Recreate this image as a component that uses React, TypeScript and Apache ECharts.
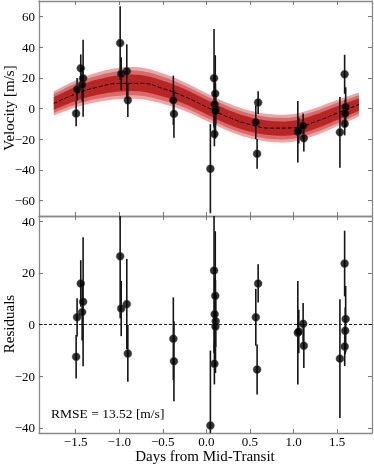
import React, { useEffect, useRef } from "react";
import * as echarts from "echarts";

// ---- Data ----
const xTicks = [-1.5, -1.0, -0.5, 0.0, 0.5, 1.0, 1.5];
const velTicks = [-60, -40, -20, 0, 20, 40, 60];
const resTicks = [-40, -20, 0, 20, 40];

const obsDays = [
  -1.494, -1.483, -1.441, -1.425, -1.414,
  -0.989, -0.977, -0.913, -0.901,
  -0.379, -0.372,
  0.046, 0.088, 0.102, 0.095, 0.107, 0.104, 0.092,
  0.567, 0.594, 0.582,
  1.049, 1.06, 1.11, 1.118,
  1.532, 1.586, 1.598, 1.593, 1.587,
];
const velocity = [
  -3.2, 12.5, 26.2, 15.5, 19.7,
  42.6, 22.6, 24.3, 5.4,
  5.4, -3.5,
  -39.2, 19.7, 9.7, 2.8, -0.45, -1.7, -16.6,
  -9.0, 3.9, -29.5,
  -15.1, -14.4, -11.2, -19.4,
  -15.5, 22.3, 1.0, -3.2, -9.9,
];
const residual = [
  -12.5, 2.8, 15.9, 4.8, 8.8,
  26.4, 6.2, 7.9, -11.2,
  -5.5, -14.2,
  -39.1, 20.9, 11.1, 4.0, 1.3, -0.8, -15.2,
  2.8, 15.9, -17.4,
  -3.2, -2.7, 0.3, -8.2,
  -13.2, 23.6, 2.1, -2.4, -8.5,
];
const errors = [
  8.4, 7.4, 9.0, 11, 25,
  24, 10.7, 17.5, 11,
  16, 15.5,
  29, 32, 25, 14, 10, 18, 8,
  11, 7.4, 9.7,
  20, 8.4, 8, 8.6,
  23, 12.7, 12.8, 9, 7.6,
];

const modelDays = [-1.75, -1.5, -1.25, -1.0, -0.75, -0.5, -0.25, 0, 0.25, 0.5, 0.75, 1.0, 1.25, 1.5, 1.75];
const modelVel = [3.3, 9.5, 13.9, 16.3, 16.4, 13.0, 7.8, 1.0, -5.6, -10.4, -12.8, -12.6, -8.6, -3.0, 2.6];
const bandOuter = [7.9, 8.8, 9.6, 10.2, 10.3, 9.9, 9.3, 9.0, 9.0, 9.0, 9.0, 9.0, 8.9, 8.6, 7.8];
const bandFractions = [1.0, 0.78, 0.52];
const bandColors = ["#eba7a7", "#d86a68", "#b92525"];

const FONT = "'Liberation Serif', 'Times New Roman', serif";
const minus = (s: string) => s.replace("-", "\u2212");

// Catmull-Rom smoothing of pixel points (drawing only)
function smoothPts(p: number[][], steps = 8): number[][] {
  const out: number[][] = [];
  const n = p.length;
  for (let i = 0; i < n - 1; i++) {
    const p0 = p[Math.max(0, i - 1)], p1 = p[i], p2 = p[i + 1], p3 = p[Math.min(n - 1, i + 2)];
    for (let s = 0; s < steps; s++) {
      const t = s / steps, t2 = t * t, t3 = t2 * t;
      const f = (a: number, b: number, c: number, d: number) =>
        0.5 * (2 * b + (-a + c) * t + (2 * a - 5 * b + 4 * c - d) * t2 + (-a + 3 * b - 3 * c + d) * t3);
      out.push([f(p0[0], p1[0], p2[0], p3[0]), f(p0[1], p1[1], p2[1], p3[1])]);
    }
  }
  out.push(p[n - 1]);
  return out;
}

export default function App() {
  const ref = useRef<HTMLDivElement>(null);
  useEffect(() => {
    const chart = echarts.init(ref.current!, null, { renderer: "svg" });

    const frame = { show: true, onZero: false, lineStyle: { color: "#8a8a8a", width: 1.3 } };
    const tick = (vals: number[]) => ({
      show: true, inside: true, length: 4, customValues: vals,
      lineStyle: { color: "#777", width: 1 },
    });
    const xBase = { type: "value", min: -1.92, max: 1.9, splitLine: { show: false }, axisLine: frame };

    const xAxis: any[] = [
      { ...xBase, gridIndex: 0, position: "bottom", axisTick: tick(xTicks), axisLabel: { show: false } },
      { ...xBase, gridIndex: 0, position: "top", axisTick: tick(xTicks), axisLabel: { show: false } },
      {
        ...xBase, gridIndex: 1, position: "bottom", axisTick: tick(xTicks),
        axisLabel: {
          show: true, customValues: xTicks, margin: 2, color: "#000", fontFamily: FONT, fontSize: 13,
          lineHeight: 13,
          formatter: (v: number) => minus(v.toFixed(1)),
        },
      },
      { ...xBase, gridIndex: 1, position: "top", axisTick: tick(xTicks), axisLabel: { show: false } },
    ];

    const yAxis: any[] = [
      {
        type: "value", gridIndex: 0, position: "left", min: -70, max: 70, splitLine: { show: false },
        axisLine: frame, axisTick: tick(velTicks),
        axisLabel: {
          customValues: velTicks, margin: 4, color: "#000", fontFamily: FONT, fontSize: 13,
          formatter: (v: number) => minus(String(v)),
        },
      },
      {
        type: "value", gridIndex: 0, position: "right", min: -70, max: 70, splitLine: { show: false },
        axisLine: frame, axisTick: tick(velTicks), axisLabel: { show: false },
      },
      {
        type: "value", gridIndex: 1, position: "left", min: -42, max: 42, splitLine: { show: false },
        axisLine: frame, axisTick: tick(resTicks),
        axisLabel: {
          customValues: resTicks, margin: 4, color: "#000", fontFamily: FONT, fontSize: 13,
          formatter: (v: number) => minus(String(v)),
        },
      },
      {
        type: "value", gridIndex: 1, position: "right", min: -42, max: 42, splitLine: { show: false },
        axisLine: frame, axisTick: tick(resTicks), axisLabel: { show: false },
      },
    ];

    const series: any[] = [];
    // Confidence bands (outer -> inner), one polygon per band
    series.push({
      type: "custom", xAxisIndex: 0, yAxisIndex: 0, clip: true, silent: true,
      data: bandFractions.map((f, k) => [k, f]),
      encode: { x: -1, y: -1 },
      renderItem: (params: any, api: any) => {
        const k = params.dataIndex;
        const f = bandFractions[k];
        const upper = modelDays.map((d, i) => api.coord([d, modelVel[i] + bandOuter[i] * f]));
        const lower = modelDays.map((d, i) => api.coord([d, modelVel[i] - bandOuter[i] * f]));
        const pts = smoothPts(upper).concat(smoothPts(lower).reverse());
        return { type: "polygon", shape: { points: pts }, style: { fill: bandColors[k] } };
      },
    });
    series.push({
      type: "line", xAxisIndex: 0, yAxisIndex: 0, smooth: true, symbol: "none", silent: true,
      lineStyle: { color: "#000", width: 1, type: [4, 2] },
      data: modelDays.map((d, i) => [d, modelVel[i]]),
    });

    const errBar = (vals: number[], xi: number, yi: number) => ({
      type: "custom", xAxisIndex: xi, yAxisIndex: yi, clip: true, silent: true,
      encode: { x: 0, y: 1 },
      data: obsDays.map((d, i) => [d, vals[i], errors[i]]),
      renderItem: (params: any, api: any) => {
        const x = api.value(0), y = api.value(1), e = api.value(2);
        const p1 = api.coord([x, y - e]);
        const p2 = api.coord([x, y + e]);
        return {
          type: "line",
          shape: { x1: p1[0], y1: p1[1], x2: p2[0], y2: p2[1] },
          style: { stroke: "#151515", lineWidth: 1.6 },
        };
      },
    });

    series.push(errBar(velocity, 0, 0));
    series.push({
      type: "scatter", xAxisIndex: 0, yAxisIndex: 0, symbolSize: 8, silent: true,
      itemStyle: { color: "#000", borderColor: "#444", borderWidth: 0.5 },
      data: obsDays.map((d, i) => [d, velocity[i]]),
    });
    series.push(errBar(residual, 2, 2));
    series.push({
      type: "scatter", xAxisIndex: 2, yAxisIndex: 2, symbolSize: 8, silent: true,
      itemStyle: { color: "#000", borderColor: "#444", borderWidth: 0.5 },
      data: obsDays.map((d, i) => [d, residual[i]]),
      markLine: {
        silent: true, symbol: "none", label: { show: false },
        lineStyle: { color: "#000", type: [3, 2], width: 0.9 },
        data: [{ yAxis: 0 }],
        z: 1,
      },
    });

    const titleFont = "15px 'Liberation Serif', 'Times New Roman', serif";
    chart.setOption({
      animation: false,
      grid: [
        { left: 39, top: 1, width: 333, height: 215 },
        { left: 39, top: 216, width: 333, height: 217 },
      ],
      xAxis,
      yAxis,
      series,
      graphic: [
        {
          type: "text", x: 9, y: 108, rotation: Math.PI / 2,
          style: { text: "Velocity [m/s]", font: titleFont, fill: "#000", align: "center", verticalAlign: "middle" },
        },
        {
          type: "text", x: 9, y: 324, rotation: Math.PI / 2,
          style: { text: "Residuals", font: titleFont, fill: "#000", align: "center", verticalAlign: "middle" },
        },
        {
          type: "text", x: 205, y: 456,
          style: { text: "Days from Mid-Transit", font: titleFont, fill: "#000", align: "center", verticalAlign: "middle" },
        },
        {
          type: "text", left: 51, top: 406,
          style: { text: "RMSE = 13.52 [m/s]", font: "13.5px 'Liberation Serif', serif", fill: "#000" },
        },
      ],
    });
    return () => chart.dispose();
  }, []);
  return <div ref={ref} style={{ position: "fixed", left: 0, top: 0, width: 374, height: 464 }} />;
}
